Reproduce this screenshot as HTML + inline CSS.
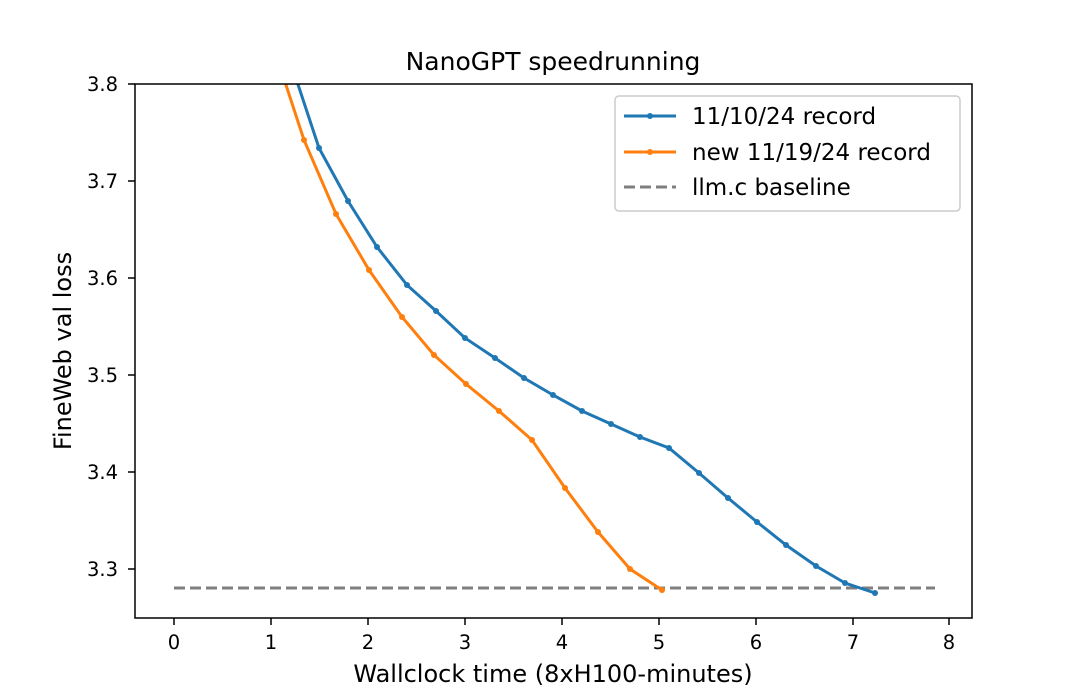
<!DOCTYPE html>
<html><head><style>body{margin:0;background:#fff}svg{display:block}</style></head><body>
<svg width="1080" height="694" xmlns="http://www.w3.org/2000/svg" font-family="DejaVu Sans, Liberation Sans, sans-serif">
<rect width="1080" height="694" fill="#fff"/>
<defs><clipPath id="c"><rect x="135" y="84" width="837" height="534"/></clipPath></defs>
<text x="553" y="70" font-size="25" text-anchor="middle" fill="#000">NanoGPT speedrunning</text>
<g clip-path="url(#c)">
<line x1="174" y1="588" x2="935" y2="588" stroke="#7f7f7f" stroke-width="3" stroke-dasharray="11,5"/>
<polyline fill="none" stroke="#1f77b4" stroke-width="3" points="280,30 319,148 348,201 377,247 407,285 436,311 465,338 495,358 524,378 553,395 582,411 611,424 640,437 669,448 699,473 728,498 757,522 786,545 816,566 845,583 875,593"/>
<g fill="#1f77b4"><circle cx="319" cy="148" r="3"/><circle cx="348" cy="201" r="3"/><circle cx="377" cy="247" r="3"/><circle cx="407" cy="285" r="3"/><circle cx="436" cy="311" r="3"/><circle cx="465" cy="338" r="3"/><circle cx="495" cy="358" r="3"/><circle cx="524" cy="378" r="3"/><circle cx="553" cy="395" r="3"/><circle cx="582" cy="411" r="3"/><circle cx="611" cy="424" r="3"/><circle cx="640" cy="437" r="3"/><circle cx="669" cy="448" r="3"/><circle cx="699" cy="473" r="3"/><circle cx="728" cy="498" r="3"/><circle cx="757" cy="522" r="3"/><circle cx="786" cy="545" r="3"/><circle cx="816" cy="566" r="3"/><circle cx="845" cy="583" r="3"/><circle cx="875" cy="593" r="3"/></g>
<polyline fill="none" stroke="#ff7f0e" stroke-width="3" points="268,30 304,140 336,214 369,270 402,317 434,355 466,384 499,411 532,440 565,488 598,532 630,569 662,590"/>
<g fill="#ff7f0e"><circle cx="304" cy="140" r="3"/><circle cx="336" cy="214" r="3"/><circle cx="369" cy="270" r="3"/><circle cx="402" cy="317" r="3"/><circle cx="434" cy="355" r="3"/><circle cx="466" cy="384" r="3"/><circle cx="499" cy="411" r="3"/><circle cx="532" cy="440" r="3"/><circle cx="565" cy="488" r="3"/><circle cx="598" cy="532" r="3"/><circle cx="630" cy="569" r="3"/><circle cx="662" cy="590" r="3"/></g>
</g>
<rect x="135" y="84" width="837" height="534" fill="none" stroke="#000" stroke-width="1.5"/>
<g stroke="#000" stroke-width="1.5">
<line x1="174" y1="618" x2="174" y2="625"/><line x1="271" y1="618" x2="271" y2="625"/><line x1="368" y1="618" x2="368" y2="625"/><line x1="465" y1="618" x2="465" y2="625"/><line x1="562" y1="618" x2="562" y2="625"/><line x1="659" y1="618" x2="659" y2="625"/><line x1="756" y1="618" x2="756" y2="625"/><line x1="853" y1="618" x2="853" y2="625"/><line x1="949" y1="618" x2="949" y2="625"/>
<line x1="128" y1="84" x2="135" y2="84"/><line x1="128" y1="181" x2="135" y2="181"/><line x1="128" y1="278" x2="135" y2="278"/><line x1="128" y1="375" x2="135" y2="375"/><line x1="128" y1="472" x2="135" y2="472"/><line x1="128" y1="569" x2="135" y2="569"/>
</g>
<g font-size="19.5" fill="#000" text-anchor="middle">
<text x="174" y="649">0</text><text x="271" y="649">1</text><text x="368" y="649">2</text><text x="465" y="649">3</text><text x="562" y="649">4</text><text x="659" y="649">5</text><text x="756" y="649">6</text><text x="853" y="649">7</text><text x="949" y="649">8</text>
</g>
<g font-size="19.5" fill="#000" text-anchor="end">
<text x="118" y="91">3.8</text><text x="118" y="188">3.7</text><text x="118" y="285">3.6</text><text x="118" y="382">3.5</text><text x="118" y="479">3.4</text><text x="118" y="576">3.3</text>
</g>
<text x="553" y="682" font-size="24" text-anchor="middle">Wallclock time (8xH100-minutes)</text>
<text transform="translate(71,351) rotate(-90)" font-size="24" text-anchor="middle">FineWeb val loss</text>
<rect x="615" y="96" width="345" height="115" rx="4" fill="#fff" stroke="#ccc" stroke-width="1.5"/>
<line x1="624" y1="116" x2="676" y2="116" stroke="#1f77b4" stroke-width="3"/><circle cx="650" cy="116" r="3" fill="#1f77b4"/>
<line x1="624" y1="152" x2="676" y2="152" stroke="#ff7f0e" stroke-width="3"/><circle cx="650" cy="152" r="3" fill="#ff7f0e"/>
<line x1="624" y1="187" x2="676" y2="187" stroke="#7f7f7f" stroke-width="3" stroke-dasharray="11,5"/>
<g font-size="23" fill="#000"><text x="692" y="124">11/10/24 record</text><text x="692" y="160">new 11/19/24 record</text><text x="692" y="195">llm.c baseline</text></g>
</svg>
</body></html>
